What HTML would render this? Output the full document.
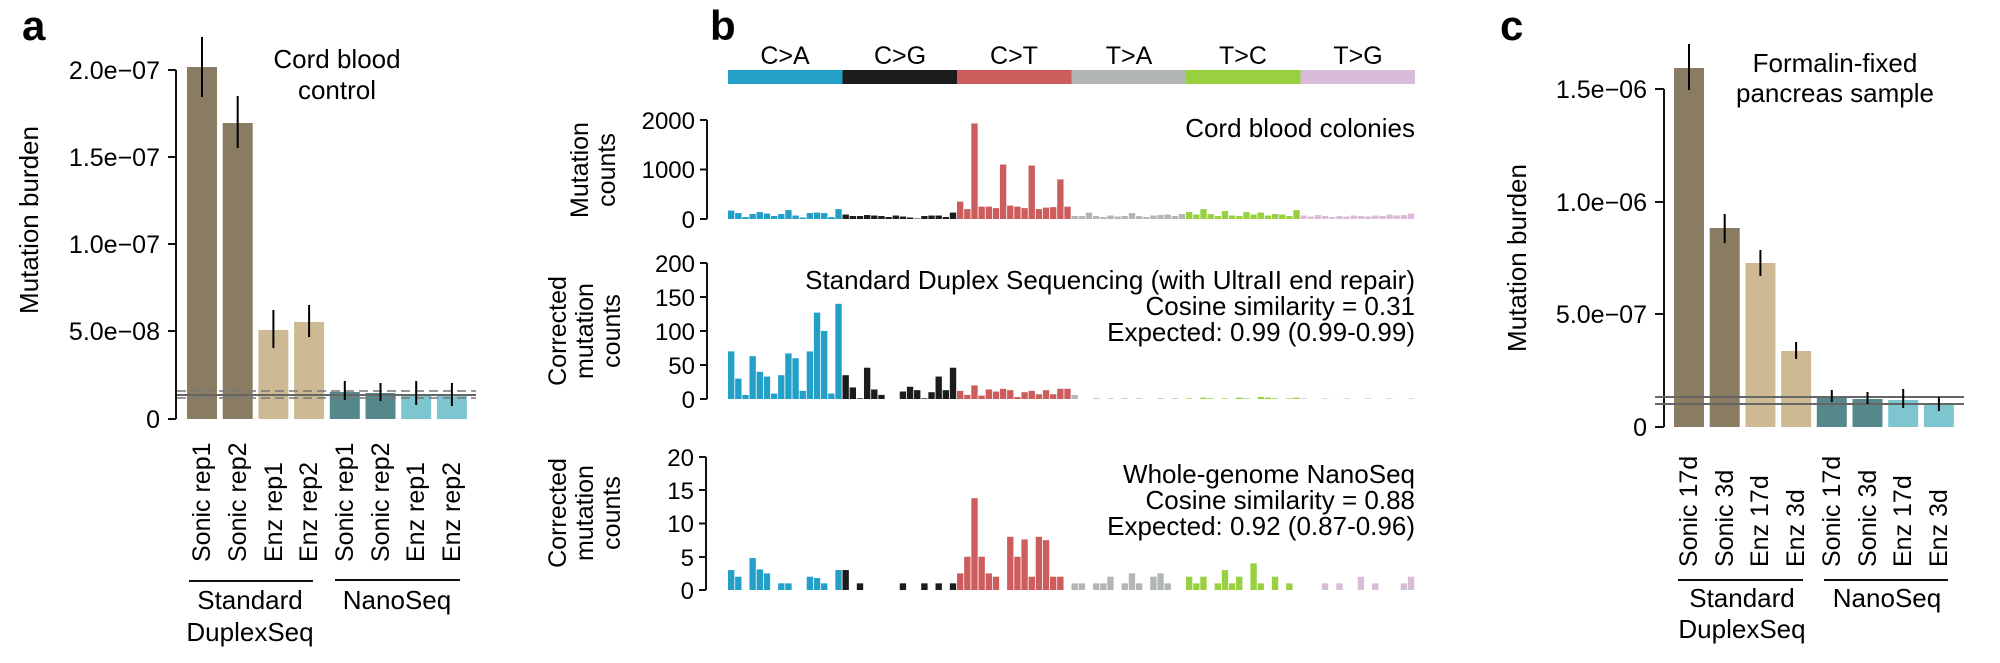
<!DOCTYPE html>
<html><head><meta charset="utf-8">
<style>
html,body{margin:0;padding:0;background:#fff;}
svg{display:block;font-family:"Liberation Sans",Arial,sans-serif;}
</style></head>
<body>
<svg id="s" width="2000" height="663" viewBox="0 0 2000 663" xmlns="http://www.w3.org/2000/svg">
<rect width="2000" height="663" fill="#fff"/>
<text x="22" y="40" font-size="42" font-weight="bold">a</text>
<text x="710" y="40" font-size="42" font-weight="bold">b</text>
<text x="1500" y="40" font-size="42" font-weight="bold">c</text>

<g font-size="25">
<line x1="176" y1="70" x2="176" y2="419" stroke="#111" stroke-width="2"/>
<g stroke="#111" stroke-width="2">
<line x1="168" y1="70" x2="176" y2="70"/><line x1="168" y1="157" x2="176" y2="157"/>
<line x1="168" y1="244" x2="176" y2="244"/><line x1="168" y1="331" x2="176" y2="331"/>
<line x1="168" y1="419" x2="176" y2="419"/></g>
<g text-anchor="end">
<text x="160" y="79">2.0e−07</text><text x="160" y="166">1.5e−07</text>
<text x="160" y="253">1.0e−07</text><text x="160" y="340">5.0e−08</text>
<text x="160" y="428">0</text></g>
<text transform="translate(38,220) rotate(-90)" text-anchor="middle" font-size="26">Mutation burden</text>
<text x="337" y="68" text-anchor="middle" font-size="26">Cord blood</text>
<text x="337" y="99" text-anchor="middle" font-size="26">control</text>
</g>

<g font-size="25">
<line x1="1664" y1="89" x2="1664" y2="427" stroke="#111" stroke-width="2"/>
<g stroke="#111" stroke-width="2">
<line x1="1655" y1="89" x2="1664" y2="89"/><line x1="1655" y1="202" x2="1664" y2="202"/>
<line x1="1655" y1="314" x2="1664" y2="314"/><line x1="1655" y1="427" x2="1664" y2="427"/></g>
<g text-anchor="end">
<text x="1647" y="98">1.5e−06</text><text x="1647" y="211">1.0e−06</text>
<text x="1647" y="323">5.0e−07</text><text x="1647" y="436">0</text></g>
<text transform="translate(1526,258) rotate(-90)" text-anchor="middle" font-size="26">Mutation burden</text>
<text x="1835" y="72" text-anchor="middle" font-size="26">Formalin-fixed</text>
<text x="1835" y="102" text-anchor="middle" font-size="26">pancreas sample</text>
</g>

<g font-size="24">
<g text-anchor="middle" font-size="25">
<text x="785" y="64">C&gt;A</text><text x="900" y="64">C&gt;G</text><text x="1014" y="64">C&gt;T</text>
<text x="1129" y="64">T&gt;A</text><text x="1243" y="64">T&gt;C</text><text x="1358" y="64">T&gt;G</text></g>
<rect x="728" y="70" width="114.5" height="14" fill="#22a0c8"/>
<rect x="842.5" y="70" width="114.5" height="14" fill="#1c1c1c"/>
<rect x="957" y="70" width="114.5" height="14" fill="#cd5c5c"/>
<rect x="1071.5" y="70" width="114.5" height="14" fill="#b2b6b4"/>
<rect x="1186" y="70" width="114.5" height="14" fill="#98d040"/>
<rect x="1300.5" y="70" width="114.5" height="14" fill="#d8bcd8"/>

<line x1="707" y1="120" x2="707" y2="219" stroke="#111" stroke-width="2"/>
<g stroke="#111" stroke-width="2"><line x1="700" y1="120" x2="707" y2="120"/><line x1="700" y1="169.5" x2="707" y2="169.5"/><line x1="700" y1="219" x2="707" y2="219"/></g>
<g text-anchor="end"><text x="695" y="129">2000</text><text x="695" y="178">1000</text><text x="695" y="228">0</text></g>
<text transform="translate(588,170) rotate(-90)" text-anchor="middle" font-size="25">Mutation</text>
<text transform="translate(615,170) rotate(-90)" text-anchor="middle" font-size="25">counts</text>
<text x="1415" y="137" text-anchor="end" font-size="26">Cord blood colonies</text>

<line x1="707" y1="263" x2="707" y2="399" stroke="#111" stroke-width="2"/>
<g stroke="#111" stroke-width="2">
<line x1="700" y1="263" x2="707" y2="263"/><line x1="700" y1="297" x2="707" y2="297"/>
<line x1="700" y1="331" x2="707" y2="331"/><line x1="700" y1="365" x2="707" y2="365"/>
<line x1="700" y1="399" x2="707" y2="399"/></g>
<g text-anchor="end"><text x="695" y="272">200</text><text x="695" y="306">150</text><text x="695" y="340">100</text><text x="695" y="374">50</text><text x="695" y="408">0</text></g>
<text transform="translate(566,331) rotate(-90)" text-anchor="middle" font-size="25">Corrected</text>
<text transform="translate(593,331) rotate(-90)" text-anchor="middle" font-size="25">mutation</text>
<text transform="translate(620,331) rotate(-90)" text-anchor="middle" font-size="25">counts</text>
<text x="1415" y="289" text-anchor="end" font-size="26">Standard Duplex Sequencing (with UltraII end repair)</text>
<text x="1415" y="315" text-anchor="end" font-size="26">Cosine similarity = 0.31</text>
<text x="1415" y="341" text-anchor="end" font-size="26">Expected: 0.99 (0.99-0.99)</text>

<line x1="706" y1="457" x2="706" y2="590" stroke="#111" stroke-width="2"/>
<g stroke="#111" stroke-width="2">
<line x1="699" y1="457" x2="706" y2="457"/><line x1="699" y1="490" x2="706" y2="490"/>
<line x1="699" y1="523.5" x2="706" y2="523.5"/><line x1="699" y1="557" x2="706" y2="557"/>
<line x1="699" y1="590" x2="706" y2="590"/></g>
<g text-anchor="end"><text x="694" y="466">20</text><text x="694" y="499">15</text><text x="694" y="532">10</text><text x="694" y="566">5</text><text x="694" y="599">0</text></g>
<text transform="translate(566,513) rotate(-90)" text-anchor="middle" font-size="25">Corrected</text>
<text transform="translate(593,513) rotate(-90)" text-anchor="middle" font-size="25">mutation</text>
<text transform="translate(620,513) rotate(-90)" text-anchor="middle" font-size="25">counts</text>
<text x="1415" y="483" text-anchor="end" font-size="26">Whole-genome NanoSeq</text>
<text x="1415" y="509" text-anchor="end" font-size="26">Cosine similarity = 0.88</text>
<text x="1415" y="535" text-anchor="end" font-size="26">Expected: 0.92 (0.87-0.96)</text>
</g>

<g font-size="25">
<text transform="translate(210,562) rotate(-90)">Sonic rep1</text>
<text transform="translate(246,562) rotate(-90)">Sonic rep2</text>
<text transform="translate(282,562) rotate(-90)">Enz rep1</text>
<text transform="translate(317,562) rotate(-90)">Enz rep2</text>
<text transform="translate(353,562) rotate(-90)">Sonic rep1</text>
<text transform="translate(389,562) rotate(-90)">Sonic rep2</text>
<text transform="translate(424,562) rotate(-90)">Enz rep1</text>
<text transform="translate(460,562) rotate(-90)">Enz rep2</text>
</g>
<line x1="189" y1="581" x2="313" y2="581" stroke="#111" stroke-width="2"/>
<line x1="335" y1="580" x2="460" y2="580" stroke="#111" stroke-width="2"/>
<g font-size="26" text-anchor="middle">
<text x="250" y="609">Standard</text><text x="250" y="641">DuplexSeq</text>
<text x="397" y="609">NanoSeq</text></g>

<g font-size="25">
<text transform="translate(1697,567) rotate(-90)">Sonic 17d</text>
<text transform="translate(1733,567) rotate(-90)">Sonic 3d</text>
<text transform="translate(1768,567) rotate(-90)">Enz 17d</text>
<text transform="translate(1804,567) rotate(-90)">Enz 3d</text>
<text transform="translate(1840,567) rotate(-90)">Sonic 17d</text>
<text transform="translate(1876,567) rotate(-90)">Sonic 3d</text>
<text transform="translate(1911,567) rotate(-90)">Enz 17d</text>
<text transform="translate(1947,567) rotate(-90)">Enz 3d</text>
</g>
<line x1="1678" y1="580" x2="1803" y2="580" stroke="#111" stroke-width="2"/>
<line x1="1824" y1="580" x2="1948" y2="580" stroke="#111" stroke-width="2"/>
<g font-size="26" text-anchor="middle">
<text x="1742" y="607">Standard</text><text x="1742" y="638">DuplexSeq</text>
<text x="1887" y="607">NanoSeq</text></g>

<g id="bars"></g>
</svg>
<script>
var NS="http://www.w3.org/2000/svg",g=document.getElementById("bars");
function R(x,y,w,h,f){var r=document.createElementNS(NS,"rect");r.setAttribute("x",x);r.setAttribute("y",y);r.setAttribute("width",w);r.setAttribute("height",Math.max(h,0));r.setAttribute("fill",f);g.appendChild(r);}
function L(x1,y1,x2,y2,c,w,d){var l=document.createElementNS(NS,"line");l.setAttribute("x1",x1);l.setAttribute("y1",y1);l.setAttribute("x2",x2);l.setAttribute("y2",y2);l.setAttribute("stroke",c);l.setAttribute("stroke-width",w);if(d)l.setAttribute("stroke-dasharray",d);g.appendChild(l);}
var cols=["#8a7c62","#8a7c62","#cdb994","#cdb994","#54888b","#54888b","#7dc6cf","#7dc6cf"];
var ta=[67,123,330,322,392,393,395,395],ea=[[37,97],[96,148],[310,348],[305,337],[381,400],[383,401],[381,405],[383,406]];
for(var i=0;i<8;i++){var x=187+i*35.7;R(x,ta[i],30,419-ta[i],cols[i]);}
L(177,391,476,391,"#777",1.5,"9,5");L(177,398,476,398,"#777",1.5,"9,5");L(177,395,476,395,"#666",2);
for(var i=0;i<8;i++){var x=187+i*35.7+15;L(x,ea[i][0],x,ea[i][1],"#000",2);}
var tc=[68,228,263,351,397,399,400,404],ec=[[44,90],[214,243],[250,276],[342,359],[390,402],[392,404],[389,408],[397,411]];
for(var i=0;i<8;i++){var x=1674+i*35.7;R(x,tc[i],30,427-tc[i],cols[i]);}
L(1655,397,1964,397,"#666",2);L(1655,404,1964,404,"#666",2);
for(var i=0;i<8;i++){var x=1674+i*35.7+15;L(x,ec[i][0],x,ec[i][1],"#000",2);}
var bc=["#22a0c8","#1c1c1c","#cd5c5c","#b2b6b4","#98d040","#d8bcd8"];
var d1=[170,120,40,100,140,110,60,100,180,70,30,120,130,120,40,200,
90,60,60,80,70,60,40,70,50,30,10,60,70,70,40,130,
350,200,1930,250,250,220,1100,270,250,220,1080,200,230,240,800,250,
60,60,130,60,40,70,50,60,120,60,40,70,80,90,60,100,
140,90,200,100,60,160,70,60,140,90,130,70,100,90,60,180,
70,50,80,60,40,60,50,70,60,50,70,60,90,70,80,110];
var d2=[70,30,6,63,40,33,8,35,67,60,12,70,127,100,8,140,
35,17,1,46,14,6,0,0,11,18,13,1,10,33,13,46,
12,6,20,5,14,11,15,13,3,10,12,7,13,7,15,15,
6,0,0,1,0,1,0,1,0,1,0,0,1,0,1,0,
1,0,2,1,0,1,0,2,1,0,3,2,1,0,1,2,
1,0,0,1,0,0,1,0,0,1,0,0,1,0,0,1];
var d3=[3,2,0,4.8,3.1,2.5,0,1,1,0,0,2,1.8,1,0,3,
3,0,1,0,0,0,0,0,1,0,0,1,0,1,0,1,
2.5,5,13.8,5,2.5,2,0,8,5,7.6,2,8,7.5,2,2,0,
1,1,0,1,1,2,0,1,2.5,1,0,2,2.5,1,0,0,
2,1,2,0,1,3,1,2,0,4,1,0,2,0,1,0,
0,0,0,1,0,1,0,0,2,0,1,0,0,0,1,2];
var pw=687/96;
for(var k=0;k<96;k++){var x=728+k*pw,c=bc[Math.floor(k/16)];
 var h1=d1[k]*99/2000;R(x,219-h1,pw-0.8,h1,c);
 var h2=Math.min(d2[k],200)*136/200;R(x,399-h2,pw-0.8,h2,c);
 var h3=d3[k]*133/20;R(x,590-h3,pw-0.8,h3,c);}
</script>
</body></html>
